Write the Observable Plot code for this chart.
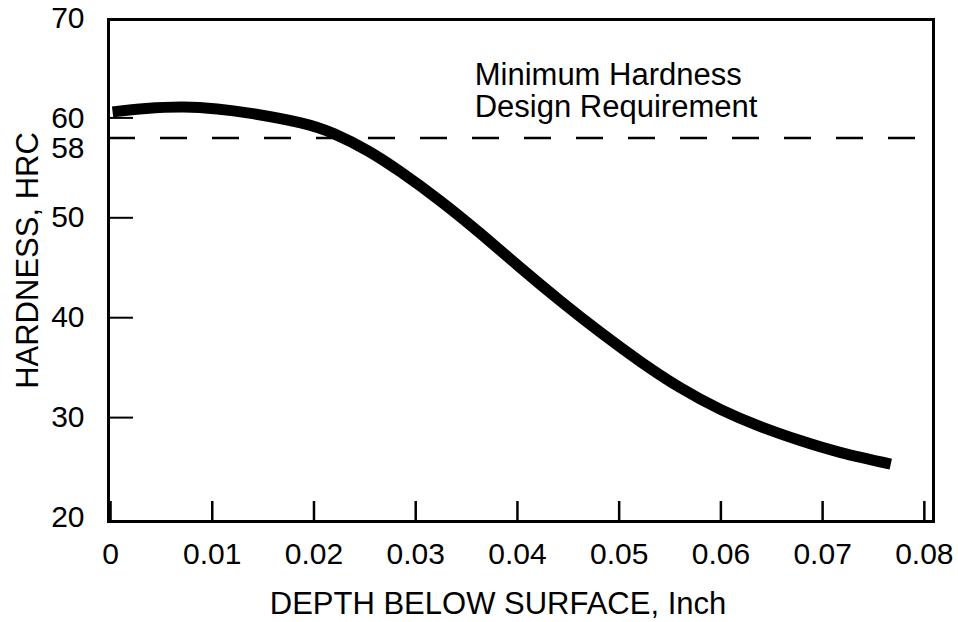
<!DOCTYPE html>
<html><head><meta charset="utf-8">
<script src="https://cdn.jsdelivr.net/npm/d3@7"></script>
<script src="https://cdn.jsdelivr.net/npm/@observablehq/plot@0.6"></script>
<style>body{margin:0;background:#fff} svg{display:block}</style>
</head><body><div id="chart"></div>
<script>
// Hardness profile
const depth =    [0.0002, 0.0035, 0.0072, 0.0105, 0.0138, 0.0187, 0.0220, 0.0253, 0.0285, 0.0324, 0.0364, 0.0403, 0.0442, 0.0482, 0.0521, 0.0560, 0.0600, 0.0639, 0.0678, 0.0718, 0.0767];
const hardness = [60.6,   60.95,  61.1,   60.9,   60.45,  59.5,   58.4,   56.7,   54.6,   51.7,   48.4,   45.0,   41.7,   38.5,   35.6,   33.0,   30.8,   29.1,   27.7,   26.5,   25.35];

const xTicks = [0, 0.01, 0.02, 0.03, 0.04, 0.05, 0.06, 0.07, 0.08];
const yTicks = [20, 30, 40, 50, 60, 70];
const yInnerTicks = [30, 40, 50, 60];
const yExtraTicks = [58];
const requirementLevel = [58];

const annotationLines = ["Minimum Hardness", "Design Requirement"];
const annotationAt = [{depth: 0.0358, hardness: 65.6}];
const xLabel = "DEPTH BELOW SURFACE, Inch";
const yLabel = "HARDNESS, HRC";

const W = 958, H = 622, mL = 108, mR = 25, mT = 19, mB = 101;
const innerW = W - mL - mR, innerH = H - mT - mB;
const data = depth.map((d, i) => ({depth: d, hardness: hardness[i]}));

const chart = Plot.plot({
  width: W, height: H,
  marginLeft: mL, marginRight: mR, marginTop: mT, marginBottom: mB,
  style: {fontFamily: '"Liberation Sans", Arial, Helvetica, sans-serif', fontSize: "30px", color: "#000", background: "#fff"},
  x: {domain: [-0.0002, 0.0809]},
  y: {domain: [19.6, 69.85]},
  marks: [
    Plot.ruleY(requirementLevel, {y: d => d, stroke: "#000", strokeWidth: 2.5, strokeDasharray: "27,25"}),
    Plot.line(data, {x: "depth", y: "hardness", stroke: "#000", strokeWidth: 11, curve: "natural", strokeLinecap: "butt"}),
    Plot.ruleX(xTicks, {x: d => d, insetTop: innerH - 20, stroke: "#000", strokeWidth: 2.5}),
    Plot.ruleY(yInnerTicks, {y: d => d, insetRight: innerW - 25, stroke: "#000", strokeWidth: 2}),
    Plot.frame({stroke: "#000", strokeWidth: 3}),
    Plot.axisX(xTicks, {tickSize: 0, tickPadding: 21, label: null, fontSize: 30, tickFormat: d => d === 0 ? "0" : d.toFixed(2)}),
    Plot.axisY(yTicks, {tickSize: 0, tickPadding: 24, label: null, fontSize: 30}),
    Plot.axisY(yExtraTicks, {tickSize: 0, tickPadding: 24, label: null, fontSize: 30, dy: 11}),
    Plot.text([yLabel], {text: d => d, frameAnchor: "left", textAnchor: "middle", lineAnchor: "middle", dx: -80, dy: -10, rotate: -90, fontSize: 31}),
    Plot.text([xLabel], {text: d => d, frameAnchor: "bottom", textAnchor: "middle", dx: -23, dy: 92, lineAnchor: "bottom", fontSize: 31}),
    Plot.text(annotationAt, {x: "depth", y: "hardness", text: () => annotationLines.join("\n"), textAnchor: "start", lineAnchor: "top", lineHeight: 1.04, fontSize: 31})
  ]
});
document.getElementById("chart").appendChild(chart);
</script>
</body></html>
